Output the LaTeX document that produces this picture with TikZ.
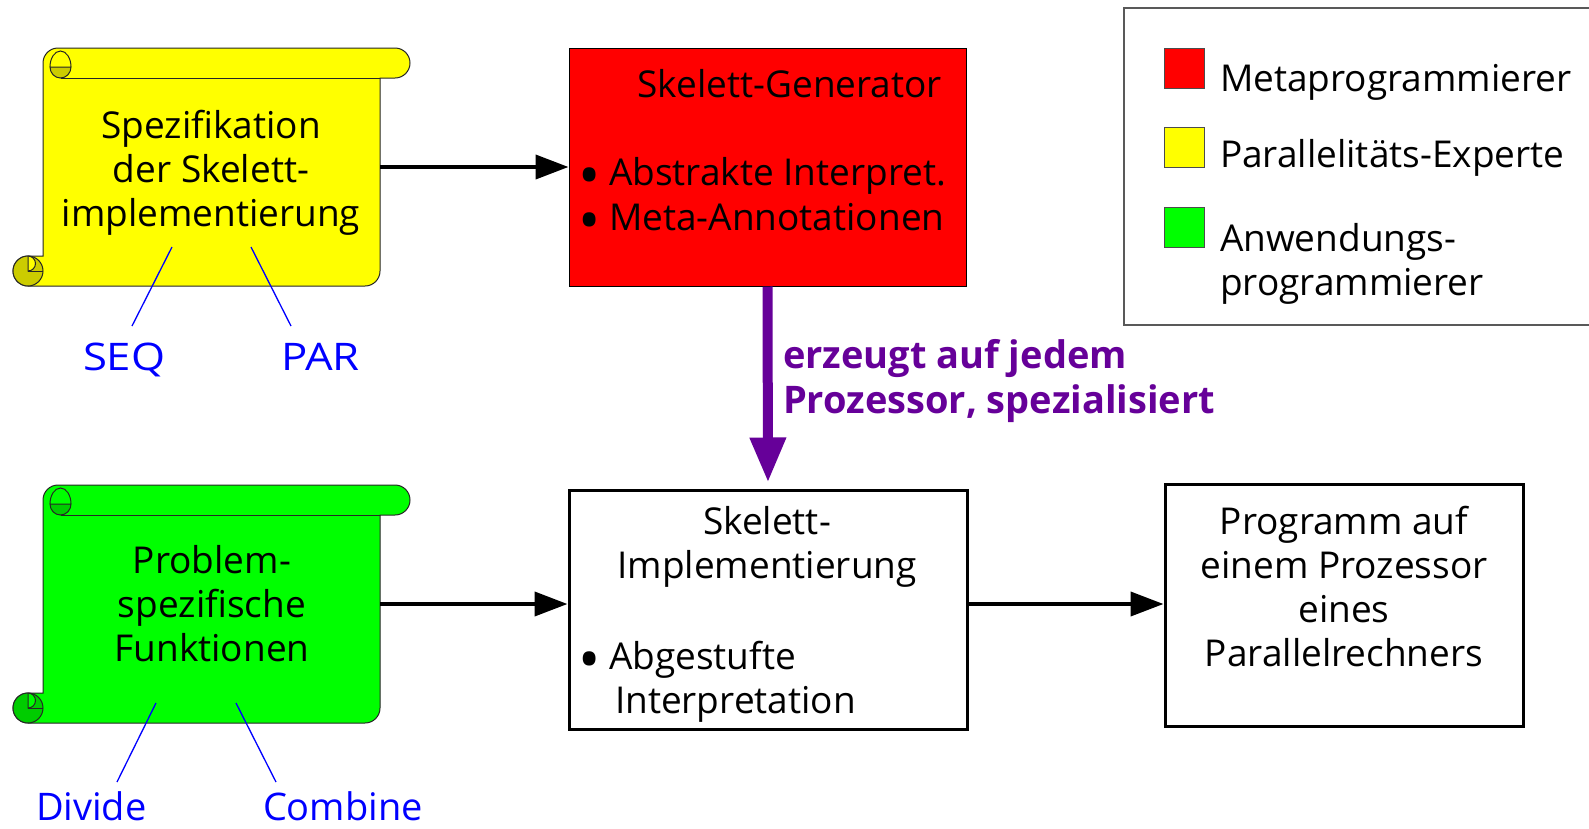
\documentclass[tikz,border=0pt]{standalone}
\usepackage{fontspec}
\setmainfont{Open Sans}
\usetikzlibrary{arrows.meta}
\definecolor{yel}{RGB}{255,255,0}
\definecolor{yeldark}{RGB}{204,204,0}
\definecolor{grn}{RGB}{0,255,0}
\definecolor{grndark}{RGB}{0,204,0}
\definecolor{redc}{RGB}{255,0,0}
\definecolor{purp}{RGB}{102,0,153}
\definecolor{bluec}{RGB}{0,0,255}
\newcommand\ctab[1]{\begin{tabular}[t]{@{}c@{}}#1\end{tabular}}
\newcommand\bigbullet{\raisebox{-11pt}[19pt][0pt]{\scalebox{1.6}{•}}}
\newcommand\drawscroll[4]{%
  \filldraw[scrollline, fill=#3] (43,{-(#1+15)}) arc[start angle=180,end angle=90,radius=15]
    -- (395,{-#1}) arc[start angle=90,end angle=-90,radius=15]
    -- (380,{-(#1+30)}) -- (380,{-(#2-15)}) arc[start angle=0,end angle=-90,radius=15]
    -- (28,{-#2}) arc[start angle=270,end angle=90,radius=15]
    -- (43,{-(#2-30)}) -- cycle;
  \filldraw[scrollline, fill=#4] (28,{-(#2-15)}) circle[radius=15];
  \filldraw[scrollline, fill=#3] (28,{-(#2-30)}) arc[start angle=90,end angle=-90,radius=7.5] -- cycle;
  \draw[scrollline] (28,{-(#2-15)}) -- (43,{-(#2-15)});
  \filldraw[scrollline, fill=#4] (50,{-(#1+19)}) arc[start angle=180,end angle=360,x radius=10.5,y radius=11] -- cycle;
  \draw[scrollline] (50,{-(#1+19)}) arc[start angle=180,end angle=0,x radius=10.5,y radius=16];
  \draw[scrollline] (60.5,{-(#1+30)}) -- (380,{-(#1+30)});
}
\tikzset{
  scrollline/.style={draw=black!85, line width=1pt},
  txt/.style={inner sep=0pt, outer sep=0pt, font=\fontsize{37}{44}\selectfont},
  btxt/.style={inner sep=0pt, outer sep=0pt, font=\fontsize{38}{44}\selectfont\bfseries, text=purp},
  bltxt/.style={inner sep=0pt, outer sep=0pt, font=\fontsize{38}{44}\selectfont, text=bluec},
  genbox/.style={draw=black, line width=1pt, fill=redc, minimum width=397pt, minimum height=238pt, inner sep=0pt},
  whitebox/.style={draw=black, line width=3pt, fill=white, inner sep=0pt},
  sq/.style={draw=black!70, line width=1pt, minimum size=40pt, inner sep=0pt},
  blackarrow/.style={line width=4pt, -{Triangle[length=33pt,width=24pt]}},
  purparrow/.style={draw=purp, line width=10pt, -{Triangle[length=45pt,width=34pt]}, shorten >=6pt},
  blueline/.style={draw=bluec, line width=1.3pt},
}
\begin{document}
\begin{tikzpicture}[x=1pt,y=1pt]
\useasboundingbox (0,0) rectangle (1589,-828);
\clip (0,0) rectangle (1589,-828);
\fill[white] (0,0) rectangle (1589,-828);

% scrolls
\drawscroll{48}{286}{yel}{yeldark}
\drawscroll{485}{723}{grn}{grndark}

\node[txt, anchor=base] (spec) at (211,-138) {\ctab{Spezifikation\\der Skelett-\\implementierung}};
\node[txt, anchor=base] (prob) at (212,-573) {\ctab{Problem-\\spezifische\\Funktionen}};

% boxes
\node[genbox] (gen) at (767.5,-167) {};
\node[whitebox, minimum width=398pt, minimum height=239pt] (impl) at (768,-609.5) {};
\node[whitebox, minimum width=358pt, minimum height=242pt] (prog) at (1344,-605) {};

% generator text
\node[txt, anchor=base east] (gentitle) at (942,-97) {Skelett-Generator};
\node[txt, anchor=base] (b1) at (590,-185) {\bigbullet};
\node[txt, anchor=base west] (g1) at (609,-185) {Abstrakte Interpret.};
\node[txt, anchor=base] (b2) at (590,-230) {\bigbullet};
\node[txt, anchor=base west] (g2) at (609,-230) {Meta-Annotationen};

% implementation text
\node[txt, anchor=base] (impltitle) at (767,-534) {\ctab{Skelett-\\Implementierung}};
\node[txt, anchor=base] (b3) at (590,-669) {\bigbullet};
\node[txt, anchor=base west] (i1) at (609,-669) {Abgestufte};
\node[txt, anchor=base west] (i2) at (615,-713) {Interpretation};

% program text
\node[txt, anchor=base] (progtext) at (1344,-534) {\ctab{Programm auf\\einem Prozessor\\eines\\Parallelrechners}};

% connectors
\coordinate (yelR) at (380,-167);
\coordinate (grR) at (380,-604);
\draw[blackarrow] (yelR) -- (gen.west);
\draw[blackarrow] (grR) -- (grR -| impl.west);
\draw[blackarrow] (impl.east |- grR) -- (prog.west |- grR);
\draw[purparrow] (gen.south) -- (impl.north);

\node[btxt, anchor=base west] (erz) at (783,-368) {erzeugt auf jedem};
\node[btxt, anchor=base west] (proz) at (783,-413) {Prozessor, spezialisiert};

% blue labels
\node[bltxt, anchor=base west] (seq) at (83,-370) {\scalebox{1.15}[1]{SEQ}};
\node[bltxt, anchor=base west] (par) at (281,-370) {\scalebox{1.15}[1]{PAR}};
\node[bltxt, anchor=base west] (div) at (36,-820) {Divide};
\node[bltxt, anchor=base west] (comb) at (263,-820) {Combine};
\coordinate (seqA) at (172,-247); \coordinate (seqB) at (132,-326);
\coordinate (parA) at (251,-247); \coordinate (parB) at (291,-326);
\coordinate (divA) at (156,-703); \coordinate (divB) at (117,-782);
\coordinate (comA) at (236,-703); \coordinate (comB) at (276,-782);
\draw[blueline] (seqA) -- (seqB);
\draw[blueline] (parA) -- (parB);
\draw[blueline] (divA) -- (divB);
\draw[blueline] (comA) -- (comB);

% legend
\draw[draw=black!65, line width=1.5pt] (1124,-8) rectangle (1600,-325);
\node[sq, fill=redc] (lr) at (1184,-68) {};
\node[sq, fill=yel] (ly) at (1184,-147.5) {};
\node[sq, fill=grn] (lg) at (1184,-227) {};
\node[txt, anchor=base west] (lrt) at (1220,-91) {Metaprogrammierer};
\node[txt, anchor=base west] (lyt) at (1220,-167) {Parallelitäts-Experte};
\node[txt, anchor=base west] (lgt) at (1220,-251) {\begin{tabular}[t]{@{}l@{}}Anwendungs-\\programmierer\end{tabular}};
\end{tikzpicture}
\end{document}
